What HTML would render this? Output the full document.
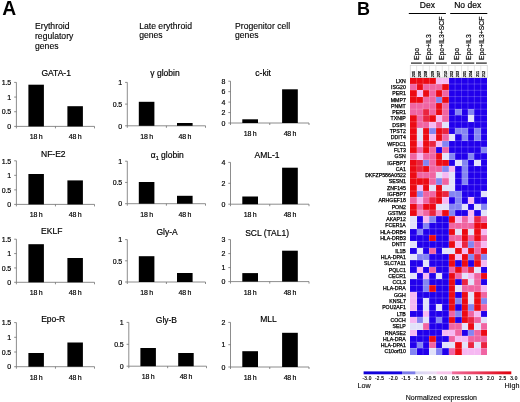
<!DOCTYPE html>
<html><head><meta charset="utf-8"><style>
html,body{margin:0;padding:0;background:#fff;}
body{width:520px;height:402px;overflow:hidden;}
.t{stroke:#000;stroke-width:0.18;}
svg{display:block;font-family:"Liberation Sans", sans-serif;will-change:transform;}
</style></head><body>
<svg width="520" height="402" viewBox="0 0 520 402" fill="#000">
<rect width="520" height="402" fill="#fff"/>
<text x="2.2" y="15.1" font-size="19.3" font-weight="bold">A</text>
<text x="357" y="15" font-size="18" font-weight="bold">B</text>
<text x="35.0" y="28.80" font-size="8.65" class="t" style="stroke-width:0.12">Erythroid</text>
<text x="35.0" y="38.65" font-size="8.65" class="t" style="stroke-width:0.12">regulatory</text>
<text x="35.0" y="48.50" font-size="8.65" class="t" style="stroke-width:0.12">genes</text>
<text x="139.2" y="28.50" font-size="8.65" class="t" style="stroke-width:0.12">Late erythroid</text>
<text x="139.2" y="38.35" font-size="8.65" class="t" style="stroke-width:0.12">genes</text>
<text x="235.0" y="28.50" font-size="8.65" class="t" style="stroke-width:0.12">Progenitor cell</text>
<text x="235.0" y="38.35" font-size="8.65" class="t" style="stroke-width:0.12">genes</text>
<line x1="16.4" y1="82.4" x2="16.4" y2="126.4" stroke="#707070" stroke-width="0.8"/>
<line x1="16.4" y1="126.4" x2="94.5" y2="126.4" stroke="#707070" stroke-width="0.8"/>
<line x1="14.2" y1="126.40" x2="16.4" y2="126.40" stroke="#707070" stroke-width="0.8"/>
<text x="11.00" y="129.15" font-size="7.0" text-anchor="end" letter-spacing="-0.2" class="t">0</text>
<line x1="14.2" y1="111.73" x2="16.4" y2="111.73" stroke="#707070" stroke-width="0.8"/>
<text x="11.00" y="114.48" font-size="7.0" text-anchor="end" letter-spacing="-0.2" class="t">0.5</text>
<line x1="14.2" y1="97.07" x2="16.4" y2="97.07" stroke="#707070" stroke-width="0.8"/>
<text x="11.00" y="99.82" font-size="7.0" text-anchor="end" letter-spacing="-0.2" class="t">1</text>
<line x1="14.2" y1="82.40" x2="16.4" y2="82.40" stroke="#707070" stroke-width="0.8"/>
<text x="11.00" y="85.15" font-size="7.0" text-anchor="end" letter-spacing="-0.2" class="t">1.5</text>
<line x1="16.40" y1="126.4" x2="16.40" y2="128.4" stroke="#707070" stroke-width="0.8"/>
<line x1="55.45" y1="126.4" x2="55.45" y2="128.4" stroke="#707070" stroke-width="0.8"/>
<line x1="94.50" y1="126.4" x2="94.50" y2="128.4" stroke="#707070" stroke-width="0.8"/>
<rect x="28.4" y="84.7" width="15.5" height="41.70" fill="#000"/>
<rect x="67.4" y="106.2" width="15.5" height="20.20" fill="#000"/>
<text x="36.15" y="139.40" font-size="7.0" text-anchor="middle" letter-spacing="-0.25" class="t">18 h</text>
<text x="75.15" y="139.40" font-size="7.0" text-anchor="middle" letter-spacing="-0.25" class="t">48 h</text>
<text x="56.2" y="76.4" font-size="8.5" text-anchor="middle" class="t">GATA-1</text>
<line x1="16.4" y1="160.8" x2="16.4" y2="204.4" stroke="#707070" stroke-width="0.8"/>
<line x1="16.4" y1="204.4" x2="94.5" y2="204.4" stroke="#707070" stroke-width="0.8"/>
<line x1="14.2" y1="204.40" x2="16.4" y2="204.40" stroke="#707070" stroke-width="0.8"/>
<text x="11.00" y="207.15" font-size="7.0" text-anchor="end" letter-spacing="-0.2" class="t">0</text>
<line x1="14.2" y1="189.87" x2="16.4" y2="189.87" stroke="#707070" stroke-width="0.8"/>
<text x="11.00" y="192.62" font-size="7.0" text-anchor="end" letter-spacing="-0.2" class="t">0.5</text>
<line x1="14.2" y1="175.33" x2="16.4" y2="175.33" stroke="#707070" stroke-width="0.8"/>
<text x="11.00" y="178.08" font-size="7.0" text-anchor="end" letter-spacing="-0.2" class="t">1</text>
<line x1="14.2" y1="160.80" x2="16.4" y2="160.80" stroke="#707070" stroke-width="0.8"/>
<text x="11.00" y="163.55" font-size="7.0" text-anchor="end" letter-spacing="-0.2" class="t">1.5</text>
<line x1="16.40" y1="204.4" x2="16.40" y2="206.4" stroke="#707070" stroke-width="0.8"/>
<line x1="55.45" y1="204.4" x2="55.45" y2="206.4" stroke="#707070" stroke-width="0.8"/>
<line x1="94.50" y1="204.4" x2="94.50" y2="206.4" stroke="#707070" stroke-width="0.8"/>
<rect x="28.4" y="174.0" width="15.5" height="30.40" fill="#000"/>
<rect x="67.4" y="180.4" width="15.5" height="24.00" fill="#000"/>
<text x="36.15" y="217.40" font-size="7.0" text-anchor="middle" letter-spacing="-0.25" class="t">18 h</text>
<text x="75.15" y="217.40" font-size="7.0" text-anchor="middle" letter-spacing="-0.25" class="t">48 h</text>
<text x="53.3" y="157.0" font-size="8.5" text-anchor="middle" class="t">NF-E2</text>
<line x1="16.4" y1="239.2" x2="16.4" y2="282.3" stroke="#707070" stroke-width="0.8"/>
<line x1="16.4" y1="282.3" x2="94.5" y2="282.3" stroke="#707070" stroke-width="0.8"/>
<line x1="14.2" y1="282.30" x2="16.4" y2="282.30" stroke="#707070" stroke-width="0.8"/>
<text x="11.00" y="285.05" font-size="7.0" text-anchor="end" letter-spacing="-0.2" class="t">0</text>
<line x1="14.2" y1="267.93" x2="16.4" y2="267.93" stroke="#707070" stroke-width="0.8"/>
<text x="11.00" y="270.68" font-size="7.0" text-anchor="end" letter-spacing="-0.2" class="t">0.5</text>
<line x1="14.2" y1="253.57" x2="16.4" y2="253.57" stroke="#707070" stroke-width="0.8"/>
<text x="11.00" y="256.32" font-size="7.0" text-anchor="end" letter-spacing="-0.2" class="t">1</text>
<line x1="14.2" y1="239.20" x2="16.4" y2="239.20" stroke="#707070" stroke-width="0.8"/>
<text x="11.00" y="241.95" font-size="7.0" text-anchor="end" letter-spacing="-0.2" class="t">1.5</text>
<line x1="16.40" y1="282.3" x2="16.40" y2="284.3" stroke="#707070" stroke-width="0.8"/>
<line x1="55.45" y1="282.3" x2="55.45" y2="284.3" stroke="#707070" stroke-width="0.8"/>
<line x1="94.50" y1="282.3" x2="94.50" y2="284.3" stroke="#707070" stroke-width="0.8"/>
<rect x="28.4" y="244.2" width="15.5" height="38.10" fill="#000"/>
<rect x="67.4" y="258.0" width="15.5" height="24.30" fill="#000"/>
<text x="36.15" y="295.30" font-size="7.0" text-anchor="middle" letter-spacing="-0.25" class="t">18 h</text>
<text x="75.15" y="295.30" font-size="7.0" text-anchor="middle" letter-spacing="-0.25" class="t">48 h</text>
<text x="51.7" y="234.3" font-size="8.5" text-anchor="middle" class="t">EKLF</text>
<line x1="16.4" y1="322.6" x2="16.4" y2="366.7" stroke="#707070" stroke-width="0.8"/>
<line x1="16.4" y1="366.7" x2="94.5" y2="366.7" stroke="#707070" stroke-width="0.8"/>
<line x1="14.2" y1="366.70" x2="16.4" y2="366.70" stroke="#707070" stroke-width="0.8"/>
<text x="11.00" y="369.45" font-size="7.0" text-anchor="end" letter-spacing="-0.2" class="t">0</text>
<line x1="14.2" y1="352.00" x2="16.4" y2="352.00" stroke="#707070" stroke-width="0.8"/>
<text x="11.00" y="354.75" font-size="7.0" text-anchor="end" letter-spacing="-0.2" class="t">0.5</text>
<line x1="14.2" y1="337.30" x2="16.4" y2="337.30" stroke="#707070" stroke-width="0.8"/>
<text x="11.00" y="340.05" font-size="7.0" text-anchor="end" letter-spacing="-0.2" class="t">1</text>
<line x1="14.2" y1="322.60" x2="16.4" y2="322.60" stroke="#707070" stroke-width="0.8"/>
<text x="11.00" y="325.35" font-size="7.0" text-anchor="end" letter-spacing="-0.2" class="t">1.5</text>
<line x1="16.40" y1="366.7" x2="16.40" y2="368.7" stroke="#707070" stroke-width="0.8"/>
<line x1="55.45" y1="366.7" x2="55.45" y2="368.7" stroke="#707070" stroke-width="0.8"/>
<line x1="94.50" y1="366.7" x2="94.50" y2="368.7" stroke="#707070" stroke-width="0.8"/>
<rect x="28.4" y="353.0" width="15.5" height="13.70" fill="#000"/>
<rect x="67.4" y="342.5" width="15.5" height="24.20" fill="#000"/>
<text x="36.15" y="379.70" font-size="7.0" text-anchor="middle" letter-spacing="-0.25" class="t">18 h</text>
<text x="75.15" y="379.70" font-size="7.0" text-anchor="middle" letter-spacing="-0.25" class="t">48 h</text>
<text x="53.2" y="321.8" font-size="8.5" text-anchor="middle" class="t">Epo-R</text>
<line x1="127.3" y1="82.4" x2="127.3" y2="125.8" stroke="#707070" stroke-width="0.8"/>
<line x1="127.3" y1="125.8" x2="205.5" y2="125.8" stroke="#707070" stroke-width="0.8"/>
<line x1="125.1" y1="125.80" x2="127.3" y2="125.80" stroke="#707070" stroke-width="0.8"/>
<text x="121.90" y="128.55" font-size="7.0" text-anchor="end" letter-spacing="-0.2" class="t">0</text>
<line x1="125.1" y1="104.10" x2="127.3" y2="104.10" stroke="#707070" stroke-width="0.8"/>
<text x="121.90" y="106.85" font-size="7.0" text-anchor="end" letter-spacing="-0.2" class="t">0.5</text>
<line x1="125.1" y1="82.40" x2="127.3" y2="82.40" stroke="#707070" stroke-width="0.8"/>
<text x="121.90" y="85.15" font-size="7.0" text-anchor="end" letter-spacing="-0.2" class="t">1</text>
<line x1="127.30" y1="125.8" x2="127.30" y2="127.8" stroke="#707070" stroke-width="0.8"/>
<line x1="166.40" y1="125.8" x2="166.40" y2="127.8" stroke="#707070" stroke-width="0.8"/>
<line x1="205.50" y1="125.8" x2="205.50" y2="127.8" stroke="#707070" stroke-width="0.8"/>
<rect x="138.8" y="101.8" width="15.6" height="24.00" fill="#000"/>
<rect x="177.0" y="123.0" width="15.6" height="2.80" fill="#000"/>
<text x="146.60" y="138.80" font-size="7.0" text-anchor="middle" letter-spacing="-0.25" class="t">18 h</text>
<text x="184.80" y="138.80" font-size="7.0" text-anchor="middle" letter-spacing="-0.25" class="t">48 h</text>
<text x="165.0" y="75.8" font-size="8.5" text-anchor="middle" class="t">&#947; globin</text>
<line x1="127.3" y1="161.2" x2="127.3" y2="203.7" stroke="#707070" stroke-width="0.8"/>
<line x1="127.3" y1="203.7" x2="205.5" y2="203.7" stroke="#707070" stroke-width="0.8"/>
<line x1="125.1" y1="203.70" x2="127.3" y2="203.70" stroke="#707070" stroke-width="0.8"/>
<text x="121.90" y="206.45" font-size="7.0" text-anchor="end" letter-spacing="-0.2" class="t">0</text>
<line x1="125.1" y1="182.45" x2="127.3" y2="182.45" stroke="#707070" stroke-width="0.8"/>
<text x="121.90" y="185.20" font-size="7.0" text-anchor="end" letter-spacing="-0.2" class="t">0.5</text>
<line x1="125.1" y1="161.20" x2="127.3" y2="161.20" stroke="#707070" stroke-width="0.8"/>
<text x="121.90" y="163.95" font-size="7.0" text-anchor="end" letter-spacing="-0.2" class="t">1</text>
<line x1="127.30" y1="203.7" x2="127.30" y2="205.7" stroke="#707070" stroke-width="0.8"/>
<line x1="166.40" y1="203.7" x2="166.40" y2="205.7" stroke="#707070" stroke-width="0.8"/>
<line x1="205.50" y1="203.7" x2="205.50" y2="205.7" stroke="#707070" stroke-width="0.8"/>
<rect x="138.8" y="182.0" width="15.6" height="21.70" fill="#000"/>
<rect x="177.0" y="195.8" width="15.6" height="7.90" fill="#000"/>
<text x="146.60" y="216.70" font-size="7.0" text-anchor="middle" letter-spacing="-0.25" class="t">18 h</text>
<text x="184.80" y="216.70" font-size="7.0" text-anchor="middle" letter-spacing="-0.25" class="t">48 h</text>
<text x="167.3" y="157.7" font-size="8.5" text-anchor="middle" class="t">&#945;<tspan font-size="5.5" dy="1.8">1</tspan><tspan dy="-1.8"> globin</tspan></text>
<line x1="127.3" y1="239.6" x2="127.3" y2="282.0" stroke="#707070" stroke-width="0.8"/>
<line x1="127.3" y1="282.0" x2="205.5" y2="282.0" stroke="#707070" stroke-width="0.8"/>
<line x1="125.1" y1="282.00" x2="127.3" y2="282.00" stroke="#707070" stroke-width="0.8"/>
<text x="121.90" y="284.75" font-size="7.0" text-anchor="end" letter-spacing="-0.2" class="t">0</text>
<line x1="125.1" y1="260.80" x2="127.3" y2="260.80" stroke="#707070" stroke-width="0.8"/>
<text x="121.90" y="263.55" font-size="7.0" text-anchor="end" letter-spacing="-0.2" class="t">0.5</text>
<line x1="125.1" y1="239.60" x2="127.3" y2="239.60" stroke="#707070" stroke-width="0.8"/>
<text x="121.90" y="242.35" font-size="7.0" text-anchor="end" letter-spacing="-0.2" class="t">1</text>
<line x1="127.30" y1="282.0" x2="127.30" y2="284.0" stroke="#707070" stroke-width="0.8"/>
<line x1="166.40" y1="282.0" x2="166.40" y2="284.0" stroke="#707070" stroke-width="0.8"/>
<line x1="205.50" y1="282.0" x2="205.50" y2="284.0" stroke="#707070" stroke-width="0.8"/>
<rect x="138.8" y="256.2" width="15.6" height="25.80" fill="#000"/>
<rect x="177.0" y="273.0" width="15.6" height="9.00" fill="#000"/>
<text x="146.60" y="295.00" font-size="7.0" text-anchor="middle" letter-spacing="-0.25" class="t">18 h</text>
<text x="184.80" y="295.00" font-size="7.0" text-anchor="middle" letter-spacing="-0.25" class="t">48 h</text>
<text x="167.0" y="234.8" font-size="8.5" text-anchor="middle" class="t">Gly-A</text>
<line x1="128.8" y1="322.4" x2="128.8" y2="366.2" stroke="#707070" stroke-width="0.8"/>
<line x1="128.8" y1="366.2" x2="206.5" y2="366.2" stroke="#707070" stroke-width="0.8"/>
<line x1="126.60000000000001" y1="366.20" x2="128.8" y2="366.20" stroke="#707070" stroke-width="0.8"/>
<text x="123.40" y="368.95" font-size="7.0" text-anchor="end" letter-spacing="-0.2" class="t">0</text>
<line x1="126.60000000000001" y1="344.30" x2="128.8" y2="344.30" stroke="#707070" stroke-width="0.8"/>
<text x="123.40" y="347.05" font-size="7.0" text-anchor="end" letter-spacing="-0.2" class="t">0.5</text>
<line x1="126.60000000000001" y1="322.40" x2="128.8" y2="322.40" stroke="#707070" stroke-width="0.8"/>
<text x="123.40" y="325.15" font-size="7.0" text-anchor="end" letter-spacing="-0.2" class="t">1</text>
<line x1="128.80" y1="366.2" x2="128.80" y2="368.2" stroke="#707070" stroke-width="0.8"/>
<line x1="167.65" y1="366.2" x2="167.65" y2="368.2" stroke="#707070" stroke-width="0.8"/>
<line x1="206.50" y1="366.2" x2="206.50" y2="368.2" stroke="#707070" stroke-width="0.8"/>
<rect x="140.4" y="348.0" width="15.5" height="18.20" fill="#000"/>
<rect x="178.2" y="353.0" width="15.5" height="13.20" fill="#000"/>
<text x="148.15" y="379.20" font-size="7.0" text-anchor="middle" letter-spacing="-0.25" class="t">18 h</text>
<text x="185.95" y="379.20" font-size="7.0" text-anchor="middle" letter-spacing="-0.25" class="t">48 h</text>
<text x="166.4" y="322.6" font-size="8.5" text-anchor="middle" class="t">Gly-B</text>
<line x1="230.5" y1="81.2" x2="230.5" y2="123.0" stroke="#707070" stroke-width="0.8"/>
<line x1="230.5" y1="123.0" x2="309.0" y2="123.0" stroke="#707070" stroke-width="0.8"/>
<line x1="228.3" y1="123.00" x2="230.5" y2="123.00" stroke="#707070" stroke-width="0.8"/>
<text x="225.10" y="125.75" font-size="7.0" text-anchor="end" letter-spacing="-0.2" class="t">0</text>
<line x1="228.3" y1="112.55" x2="230.5" y2="112.55" stroke="#707070" stroke-width="0.8"/>
<text x="225.10" y="115.30" font-size="7.0" text-anchor="end" letter-spacing="-0.2" class="t">2</text>
<line x1="228.3" y1="102.10" x2="230.5" y2="102.10" stroke="#707070" stroke-width="0.8"/>
<text x="225.10" y="104.85" font-size="7.0" text-anchor="end" letter-spacing="-0.2" class="t">4</text>
<line x1="228.3" y1="91.65" x2="230.5" y2="91.65" stroke="#707070" stroke-width="0.8"/>
<text x="225.10" y="94.40" font-size="7.0" text-anchor="end" letter-spacing="-0.2" class="t">6</text>
<line x1="228.3" y1="81.20" x2="230.5" y2="81.20" stroke="#707070" stroke-width="0.8"/>
<text x="225.10" y="83.95" font-size="7.0" text-anchor="end" letter-spacing="-0.2" class="t">8</text>
<line x1="230.50" y1="123.0" x2="230.50" y2="125.0" stroke="#707070" stroke-width="0.8"/>
<line x1="269.75" y1="123.0" x2="269.75" y2="125.0" stroke="#707070" stroke-width="0.8"/>
<line x1="309.00" y1="123.0" x2="309.00" y2="125.0" stroke="#707070" stroke-width="0.8"/>
<rect x="242.3" y="119.3" width="15.7" height="3.70" fill="#000"/>
<rect x="282.1" y="89.3" width="15.7" height="33.70" fill="#000"/>
<text x="250.15" y="136.00" font-size="7.0" text-anchor="middle" letter-spacing="-0.25" class="t">18 h</text>
<text x="289.95" y="136.00" font-size="7.0" text-anchor="middle" letter-spacing="-0.25" class="t">48 h</text>
<text x="263.1" y="76.0" font-size="8.5" text-anchor="middle" class="t">c-kit</text>
<line x1="230.5" y1="162.4" x2="230.5" y2="204.2" stroke="#707070" stroke-width="0.8"/>
<line x1="230.5" y1="204.2" x2="309.0" y2="204.2" stroke="#707070" stroke-width="0.8"/>
<line x1="228.3" y1="204.20" x2="230.5" y2="204.20" stroke="#707070" stroke-width="0.8"/>
<text x="225.10" y="206.95" font-size="7.0" text-anchor="end" letter-spacing="-0.2" class="t">0</text>
<line x1="228.3" y1="183.30" x2="230.5" y2="183.30" stroke="#707070" stroke-width="0.8"/>
<text x="225.10" y="186.05" font-size="7.0" text-anchor="end" letter-spacing="-0.2" class="t">2</text>
<line x1="228.3" y1="162.40" x2="230.5" y2="162.40" stroke="#707070" stroke-width="0.8"/>
<text x="225.10" y="165.15" font-size="7.0" text-anchor="end" letter-spacing="-0.2" class="t">4</text>
<line x1="230.50" y1="204.2" x2="230.50" y2="206.2" stroke="#707070" stroke-width="0.8"/>
<line x1="269.75" y1="204.2" x2="269.75" y2="206.2" stroke="#707070" stroke-width="0.8"/>
<line x1="309.00" y1="204.2" x2="309.00" y2="206.2" stroke="#707070" stroke-width="0.8"/>
<rect x="242.3" y="196.5" width="15.7" height="7.70" fill="#000"/>
<rect x="282.1" y="167.7" width="15.7" height="36.50" fill="#000"/>
<text x="250.15" y="217.20" font-size="7.0" text-anchor="middle" letter-spacing="-0.25" class="t">18 h</text>
<text x="289.95" y="217.20" font-size="7.0" text-anchor="middle" letter-spacing="-0.25" class="t">48 h</text>
<text x="267.1" y="158.2" font-size="8.5" text-anchor="middle" class="t">AML-1</text>
<line x1="230.5" y1="239.6" x2="230.5" y2="281.6" stroke="#707070" stroke-width="0.8"/>
<line x1="230.5" y1="281.6" x2="309.0" y2="281.6" stroke="#707070" stroke-width="0.8"/>
<line x1="228.3" y1="281.60" x2="230.5" y2="281.60" stroke="#707070" stroke-width="0.8"/>
<text x="225.10" y="284.35" font-size="7.0" text-anchor="end" letter-spacing="-0.2" class="t">0</text>
<line x1="228.3" y1="267.60" x2="230.5" y2="267.60" stroke="#707070" stroke-width="0.8"/>
<text x="225.10" y="270.35" font-size="7.0" text-anchor="end" letter-spacing="-0.2" class="t">1</text>
<line x1="228.3" y1="253.60" x2="230.5" y2="253.60" stroke="#707070" stroke-width="0.8"/>
<text x="225.10" y="256.35" font-size="7.0" text-anchor="end" letter-spacing="-0.2" class="t">2</text>
<line x1="228.3" y1="239.60" x2="230.5" y2="239.60" stroke="#707070" stroke-width="0.8"/>
<text x="225.10" y="242.35" font-size="7.0" text-anchor="end" letter-spacing="-0.2" class="t">3</text>
<line x1="230.50" y1="281.6" x2="230.50" y2="283.6" stroke="#707070" stroke-width="0.8"/>
<line x1="269.75" y1="281.6" x2="269.75" y2="283.6" stroke="#707070" stroke-width="0.8"/>
<line x1="309.00" y1="281.6" x2="309.00" y2="283.6" stroke="#707070" stroke-width="0.8"/>
<rect x="242.3" y="273.1" width="15.7" height="8.50" fill="#000"/>
<rect x="282.1" y="250.7" width="15.7" height="30.90" fill="#000"/>
<text x="250.15" y="294.60" font-size="7.0" text-anchor="middle" letter-spacing="-0.25" class="t">18 h</text>
<text x="289.95" y="294.60" font-size="7.0" text-anchor="middle" letter-spacing="-0.25" class="t">48 h</text>
<text x="267.1" y="235.6" font-size="8.5" text-anchor="middle" class="t">SCL (TAL1)</text>
<line x1="230.5" y1="322.4" x2="230.5" y2="367.0" stroke="#707070" stroke-width="0.8"/>
<line x1="230.5" y1="367.0" x2="309.0" y2="367.0" stroke="#707070" stroke-width="0.8"/>
<line x1="228.3" y1="367.00" x2="230.5" y2="367.00" stroke="#707070" stroke-width="0.8"/>
<text x="225.10" y="369.75" font-size="7.0" text-anchor="end" letter-spacing="-0.2" class="t">0</text>
<line x1="228.3" y1="344.70" x2="230.5" y2="344.70" stroke="#707070" stroke-width="0.8"/>
<text x="225.10" y="347.45" font-size="7.0" text-anchor="end" letter-spacing="-0.2" class="t">1</text>
<line x1="228.3" y1="322.40" x2="230.5" y2="322.40" stroke="#707070" stroke-width="0.8"/>
<text x="225.10" y="325.15" font-size="7.0" text-anchor="end" letter-spacing="-0.2" class="t">2</text>
<line x1="230.50" y1="367.0" x2="230.50" y2="369.0" stroke="#707070" stroke-width="0.8"/>
<line x1="269.75" y1="367.0" x2="269.75" y2="369.0" stroke="#707070" stroke-width="0.8"/>
<line x1="309.00" y1="367.0" x2="309.00" y2="369.0" stroke="#707070" stroke-width="0.8"/>
<rect x="242.3" y="351.2" width="15.7" height="15.80" fill="#000"/>
<rect x="282.1" y="332.8" width="15.7" height="34.20" fill="#000"/>
<text x="250.15" y="380.00" font-size="7.0" text-anchor="middle" letter-spacing="-0.25" class="t">18 h</text>
<text x="289.95" y="380.00" font-size="7.0" text-anchor="middle" letter-spacing="-0.25" class="t">48 h</text>
<text x="268.4" y="321.8" font-size="8.5" text-anchor="middle" class="t">MLL</text>
<g shape-rendering="crispEdges">
<rect x="410.20" y="77.70" width="6.47" height="6.35" fill="#ec0a14"/>
<rect x="416.62" y="77.70" width="6.47" height="6.35" fill="#ec0a14"/>
<rect x="423.03" y="77.70" width="6.47" height="6.35" fill="#ec0a14"/>
<rect x="429.45" y="77.70" width="6.47" height="6.35" fill="#ec0a14"/>
<rect x="435.87" y="77.70" width="6.47" height="6.35" fill="#f6b8f2"/>
<rect x="442.28" y="77.70" width="6.47" height="6.35" fill="#f6b8f2"/>
<rect x="448.70" y="77.70" width="6.47" height="6.35" fill="#2200ec"/>
<rect x="455.12" y="77.70" width="6.47" height="6.35" fill="#2200ec"/>
<rect x="461.53" y="77.70" width="6.47" height="6.35" fill="#2200ec"/>
<rect x="467.95" y="77.70" width="6.47" height="6.35" fill="#2200ec"/>
<rect x="474.37" y="77.70" width="6.47" height="6.35" fill="#2200ec"/>
<rect x="480.78" y="77.70" width="6.47" height="6.35" fill="#2200ec"/>
<rect x="410.20" y="84.00" width="6.47" height="6.35" fill="#f064a2"/>
<rect x="416.62" y="84.00" width="6.47" height="6.35" fill="#ec0a14"/>
<rect x="423.03" y="84.00" width="6.47" height="6.35" fill="#f064a2"/>
<rect x="429.45" y="84.00" width="6.47" height="6.35" fill="#f064a2"/>
<rect x="435.87" y="84.00" width="6.47" height="6.35" fill="#f064a2"/>
<rect x="442.28" y="84.00" width="6.47" height="6.35" fill="#ec0a14"/>
<rect x="448.70" y="84.00" width="6.47" height="6.35" fill="#2200ec"/>
<rect x="455.12" y="84.00" width="6.47" height="6.35" fill="#2200ec"/>
<rect x="461.53" y="84.00" width="6.47" height="6.35" fill="#2200ec"/>
<rect x="467.95" y="84.00" width="6.47" height="6.35" fill="#2200ec"/>
<rect x="474.37" y="84.00" width="6.47" height="6.35" fill="#2200ec"/>
<rect x="480.78" y="84.00" width="6.47" height="6.35" fill="#2200ec"/>
<rect x="410.20" y="90.29" width="6.47" height="6.35" fill="#ec0a14"/>
<rect x="416.62" y="90.29" width="6.47" height="6.35" fill="#f6b8f2"/>
<rect x="423.03" y="90.29" width="6.47" height="6.35" fill="#ec0a14"/>
<rect x="429.45" y="90.29" width="6.47" height="6.35" fill="#f064a2"/>
<rect x="435.87" y="90.29" width="6.47" height="6.35" fill="#ec0a14"/>
<rect x="442.28" y="90.29" width="6.47" height="6.35" fill="#f064a2"/>
<rect x="448.70" y="90.29" width="6.47" height="6.35" fill="#2200ec"/>
<rect x="455.12" y="90.29" width="6.47" height="6.35" fill="#2200ec"/>
<rect x="461.53" y="90.29" width="6.47" height="6.35" fill="#2200ec"/>
<rect x="467.95" y="90.29" width="6.47" height="6.35" fill="#2200ec"/>
<rect x="474.37" y="90.29" width="6.47" height="6.35" fill="#2200ec"/>
<rect x="480.78" y="90.29" width="6.47" height="6.35" fill="#2200ec"/>
<rect x="410.20" y="96.59" width="6.47" height="6.35" fill="#ec0a14"/>
<rect x="416.62" y="96.59" width="6.47" height="6.35" fill="#ec0a14"/>
<rect x="423.03" y="96.59" width="6.47" height="6.35" fill="#f064a2"/>
<rect x="429.45" y="96.59" width="6.47" height="6.35" fill="#f064a2"/>
<rect x="435.87" y="96.59" width="6.47" height="6.35" fill="#8484f2"/>
<rect x="442.28" y="96.59" width="6.47" height="6.35" fill="#ec0a14"/>
<rect x="448.70" y="96.59" width="6.47" height="6.35" fill="#2200ec"/>
<rect x="455.12" y="96.59" width="6.47" height="6.35" fill="#2200ec"/>
<rect x="461.53" y="96.59" width="6.47" height="6.35" fill="#2200ec"/>
<rect x="467.95" y="96.59" width="6.47" height="6.35" fill="#2200ec"/>
<rect x="474.37" y="96.59" width="6.47" height="6.35" fill="#2200ec"/>
<rect x="480.78" y="96.59" width="6.47" height="6.35" fill="#2200ec"/>
<rect x="410.20" y="102.88" width="6.47" height="6.35" fill="#f064a2"/>
<rect x="416.62" y="102.88" width="6.47" height="6.35" fill="#f064a2"/>
<rect x="423.03" y="102.88" width="6.47" height="6.35" fill="#f064a2"/>
<rect x="429.45" y="102.88" width="6.47" height="6.35" fill="#f064a2"/>
<rect x="435.87" y="102.88" width="6.47" height="6.35" fill="#ec0a14"/>
<rect x="442.28" y="102.88" width="6.47" height="6.35" fill="#f064a2"/>
<rect x="448.70" y="102.88" width="6.47" height="6.35" fill="#2200ec"/>
<rect x="455.12" y="102.88" width="6.47" height="6.35" fill="#2200ec"/>
<rect x="461.53" y="102.88" width="6.47" height="6.35" fill="#2200ec"/>
<rect x="467.95" y="102.88" width="6.47" height="6.35" fill="#2200ec"/>
<rect x="474.37" y="102.88" width="6.47" height="6.35" fill="#2200ec"/>
<rect x="480.78" y="102.88" width="6.47" height="6.35" fill="#2200ec"/>
<rect x="410.20" y="109.18" width="6.47" height="6.35" fill="#f064a2"/>
<rect x="416.62" y="109.18" width="6.47" height="6.35" fill="#f064a2"/>
<rect x="423.03" y="109.18" width="6.47" height="6.35" fill="#ea2440"/>
<rect x="429.45" y="109.18" width="6.47" height="6.35" fill="#f064a2"/>
<rect x="435.87" y="109.18" width="6.47" height="6.35" fill="#ec0a14"/>
<rect x="442.28" y="109.18" width="6.47" height="6.35" fill="#f064a2"/>
<rect x="448.70" y="109.18" width="6.47" height="6.35" fill="#2200ec"/>
<rect x="455.12" y="109.18" width="6.47" height="6.35" fill="#8484f2"/>
<rect x="461.53" y="109.18" width="6.47" height="6.35" fill="#2200ec"/>
<rect x="467.95" y="109.18" width="6.47" height="6.35" fill="#8484f2"/>
<rect x="474.37" y="109.18" width="6.47" height="6.35" fill="#2200ec"/>
<rect x="480.78" y="109.18" width="6.47" height="6.35" fill="#2200ec"/>
<rect x="410.20" y="115.47" width="6.47" height="6.35" fill="#ec0a14"/>
<rect x="416.62" y="115.47" width="6.47" height="6.35" fill="#f064a2"/>
<rect x="423.03" y="115.47" width="6.47" height="6.35" fill="#ea2440"/>
<rect x="429.45" y="115.47" width="6.47" height="6.35" fill="#ec0a14"/>
<rect x="435.87" y="115.47" width="6.47" height="6.35" fill="#f6b8f2"/>
<rect x="442.28" y="115.47" width="6.47" height="6.35" fill="#f064a2"/>
<rect x="448.70" y="115.47" width="6.47" height="6.35" fill="#2200ec"/>
<rect x="455.12" y="115.47" width="6.47" height="6.35" fill="#2200ec"/>
<rect x="461.53" y="115.47" width="6.47" height="6.35" fill="#2200ec"/>
<rect x="467.95" y="115.47" width="6.47" height="6.35" fill="#e2e2fa"/>
<rect x="474.37" y="115.47" width="6.47" height="6.35" fill="#2200ec"/>
<rect x="480.78" y="115.47" width="6.47" height="6.35" fill="#2200ec"/>
<rect x="410.20" y="121.77" width="6.47" height="6.35" fill="#ec0a14"/>
<rect x="416.62" y="121.77" width="6.47" height="6.35" fill="#f064a2"/>
<rect x="423.03" y="121.77" width="6.47" height="6.35" fill="#f064a2"/>
<rect x="429.45" y="121.77" width="6.47" height="6.35" fill="#f6b8f2"/>
<rect x="435.87" y="121.77" width="6.47" height="6.35" fill="#f064a2"/>
<rect x="442.28" y="121.77" width="6.47" height="6.35" fill="#e2e2fa"/>
<rect x="448.70" y="121.77" width="6.47" height="6.35" fill="#2200ec"/>
<rect x="455.12" y="121.77" width="6.47" height="6.35" fill="#2200ec"/>
<rect x="461.53" y="121.77" width="6.47" height="6.35" fill="#2200ec"/>
<rect x="467.95" y="121.77" width="6.47" height="6.35" fill="#2200ec"/>
<rect x="474.37" y="121.77" width="6.47" height="6.35" fill="#2200ec"/>
<rect x="480.78" y="121.77" width="6.47" height="6.35" fill="#2200ec"/>
<rect x="410.20" y="128.06" width="6.47" height="6.35" fill="#ec0a14"/>
<rect x="416.62" y="128.06" width="6.47" height="6.35" fill="#e2e2fa"/>
<rect x="423.03" y="128.06" width="6.47" height="6.35" fill="#ec0a14"/>
<rect x="429.45" y="128.06" width="6.47" height="6.35" fill="#8484f2"/>
<rect x="435.87" y="128.06" width="6.47" height="6.35" fill="#ec0a14"/>
<rect x="442.28" y="128.06" width="6.47" height="6.35" fill="#ea2440"/>
<rect x="448.70" y="128.06" width="6.47" height="6.35" fill="#2200ec"/>
<rect x="455.12" y="128.06" width="6.47" height="6.35" fill="#8484f2"/>
<rect x="461.53" y="128.06" width="6.47" height="6.35" fill="#8484f2"/>
<rect x="467.95" y="128.06" width="6.47" height="6.35" fill="#2200ec"/>
<rect x="474.37" y="128.06" width="6.47" height="6.35" fill="#8484f2"/>
<rect x="480.78" y="128.06" width="6.47" height="6.35" fill="#2200ec"/>
<rect x="410.20" y="134.36" width="6.47" height="6.35" fill="#ec0a14"/>
<rect x="416.62" y="134.36" width="6.47" height="6.35" fill="#e2e2fa"/>
<rect x="423.03" y="134.36" width="6.47" height="6.35" fill="#ec0a14"/>
<rect x="429.45" y="134.36" width="6.47" height="6.35" fill="#f6b8f2"/>
<rect x="435.87" y="134.36" width="6.47" height="6.35" fill="#ec0a14"/>
<rect x="442.28" y="134.36" width="6.47" height="6.35" fill="#f064a2"/>
<rect x="448.70" y="134.36" width="6.47" height="6.35" fill="#e2e2fa"/>
<rect x="455.12" y="134.36" width="6.47" height="6.35" fill="#2200ec"/>
<rect x="461.53" y="134.36" width="6.47" height="6.35" fill="#8484f2"/>
<rect x="467.95" y="134.36" width="6.47" height="6.35" fill="#2200ec"/>
<rect x="474.37" y="134.36" width="6.47" height="6.35" fill="#8484f2"/>
<rect x="480.78" y="134.36" width="6.47" height="6.35" fill="#2200ec"/>
<rect x="410.20" y="140.65" width="6.47" height="6.35" fill="#ec0a14"/>
<rect x="416.62" y="140.65" width="6.47" height="6.35" fill="#f6b8f2"/>
<rect x="423.03" y="140.65" width="6.47" height="6.35" fill="#ec0a14"/>
<rect x="429.45" y="140.65" width="6.47" height="6.35" fill="#ea2440"/>
<rect x="435.87" y="140.65" width="6.47" height="6.35" fill="#f6b8f2"/>
<rect x="442.28" y="140.65" width="6.47" height="6.35" fill="#8484f2"/>
<rect x="448.70" y="140.65" width="6.47" height="6.35" fill="#2200ec"/>
<rect x="455.12" y="140.65" width="6.47" height="6.35" fill="#2200ec"/>
<rect x="461.53" y="140.65" width="6.47" height="6.35" fill="#2200ec"/>
<rect x="467.95" y="140.65" width="6.47" height="6.35" fill="#2200ec"/>
<rect x="474.37" y="140.65" width="6.47" height="6.35" fill="#2200ec"/>
<rect x="480.78" y="140.65" width="6.47" height="6.35" fill="#2200ec"/>
<rect x="410.20" y="146.95" width="6.47" height="6.35" fill="#ec0a14"/>
<rect x="416.62" y="146.95" width="6.47" height="6.35" fill="#f064a2"/>
<rect x="423.03" y="146.95" width="6.47" height="6.35" fill="#ec0a14"/>
<rect x="429.45" y="146.95" width="6.47" height="6.35" fill="#f064a2"/>
<rect x="435.87" y="146.95" width="6.47" height="6.35" fill="#2200ec"/>
<rect x="442.28" y="146.95" width="6.47" height="6.35" fill="#f064a2"/>
<rect x="448.70" y="146.95" width="6.47" height="6.35" fill="#2200ec"/>
<rect x="455.12" y="146.95" width="6.47" height="6.35" fill="#2200ec"/>
<rect x="461.53" y="146.95" width="6.47" height="6.35" fill="#2200ec"/>
<rect x="467.95" y="146.95" width="6.47" height="6.35" fill="#2200ec"/>
<rect x="474.37" y="146.95" width="6.47" height="6.35" fill="#2200ec"/>
<rect x="480.78" y="146.95" width="6.47" height="6.35" fill="#8484f2"/>
<rect x="410.20" y="153.25" width="6.47" height="6.35" fill="#f064a2"/>
<rect x="416.62" y="153.25" width="6.47" height="6.35" fill="#f6b8f2"/>
<rect x="423.03" y="153.25" width="6.47" height="6.35" fill="#f064a2"/>
<rect x="429.45" y="153.25" width="6.47" height="6.35" fill="#f064a2"/>
<rect x="435.87" y="153.25" width="6.47" height="6.35" fill="#ec0a14"/>
<rect x="442.28" y="153.25" width="6.47" height="6.35" fill="#e2e2fa"/>
<rect x="448.70" y="153.25" width="6.47" height="6.35" fill="#8484f2"/>
<rect x="455.12" y="153.25" width="6.47" height="6.35" fill="#2200ec"/>
<rect x="461.53" y="153.25" width="6.47" height="6.35" fill="#2200ec"/>
<rect x="467.95" y="153.25" width="6.47" height="6.35" fill="#8484f2"/>
<rect x="474.37" y="153.25" width="6.47" height="6.35" fill="#2200ec"/>
<rect x="480.78" y="153.25" width="6.47" height="6.35" fill="#2200ec"/>
<rect x="410.20" y="159.54" width="6.47" height="6.35" fill="#ec0a14"/>
<rect x="416.62" y="159.54" width="6.47" height="6.35" fill="#ea2440"/>
<rect x="423.03" y="159.54" width="6.47" height="6.35" fill="#8484f2"/>
<rect x="429.45" y="159.54" width="6.47" height="6.35" fill="#f064a2"/>
<rect x="435.87" y="159.54" width="6.47" height="6.35" fill="#ec0a14"/>
<rect x="442.28" y="159.54" width="6.47" height="6.35" fill="#ec0a14"/>
<rect x="448.70" y="159.54" width="6.47" height="6.35" fill="#2200ec"/>
<rect x="455.12" y="159.54" width="6.47" height="6.35" fill="#e2e2fa"/>
<rect x="461.53" y="159.54" width="6.47" height="6.35" fill="#8484f2"/>
<rect x="467.95" y="159.54" width="6.47" height="6.35" fill="#2200ec"/>
<rect x="474.37" y="159.54" width="6.47" height="6.35" fill="#e2e2fa"/>
<rect x="480.78" y="159.54" width="6.47" height="6.35" fill="#2200ec"/>
<rect x="410.20" y="165.84" width="6.47" height="6.35" fill="#ec0a14"/>
<rect x="416.62" y="165.84" width="6.47" height="6.35" fill="#ea2440"/>
<rect x="423.03" y="165.84" width="6.47" height="6.35" fill="#ec0a14"/>
<rect x="429.45" y="165.84" width="6.47" height="6.35" fill="#f064a2"/>
<rect x="435.87" y="165.84" width="6.47" height="6.35" fill="#f064a2"/>
<rect x="442.28" y="165.84" width="6.47" height="6.35" fill="#8484f2"/>
<rect x="448.70" y="165.84" width="6.47" height="6.35" fill="#f6b8f2"/>
<rect x="455.12" y="165.84" width="6.47" height="6.35" fill="#2200ec"/>
<rect x="461.53" y="165.84" width="6.47" height="6.35" fill="#8484f2"/>
<rect x="467.95" y="165.84" width="6.47" height="6.35" fill="#2200ec"/>
<rect x="474.37" y="165.84" width="6.47" height="6.35" fill="#2200ec"/>
<rect x="480.78" y="165.84" width="6.47" height="6.35" fill="#2200ec"/>
<rect x="410.20" y="172.13" width="6.47" height="6.35" fill="#ec0a14"/>
<rect x="416.62" y="172.13" width="6.47" height="6.35" fill="#f064a2"/>
<rect x="423.03" y="172.13" width="6.47" height="6.35" fill="#f064a2"/>
<rect x="429.45" y="172.13" width="6.47" height="6.35" fill="#f064a2"/>
<rect x="435.87" y="172.13" width="6.47" height="6.35" fill="#e2e2fa"/>
<rect x="442.28" y="172.13" width="6.47" height="6.35" fill="#f6b8f2"/>
<rect x="448.70" y="172.13" width="6.47" height="6.35" fill="#e2e2fa"/>
<rect x="455.12" y="172.13" width="6.47" height="6.35" fill="#2200ec"/>
<rect x="461.53" y="172.13" width="6.47" height="6.35" fill="#8484f2"/>
<rect x="467.95" y="172.13" width="6.47" height="6.35" fill="#2200ec"/>
<rect x="474.37" y="172.13" width="6.47" height="6.35" fill="#2200ec"/>
<rect x="480.78" y="172.13" width="6.47" height="6.35" fill="#2200ec"/>
<rect x="410.20" y="178.43" width="6.47" height="6.35" fill="#ec0a14"/>
<rect x="416.62" y="178.43" width="6.47" height="6.35" fill="#ec0a14"/>
<rect x="423.03" y="178.43" width="6.47" height="6.35" fill="#ec0a14"/>
<rect x="429.45" y="178.43" width="6.47" height="6.35" fill="#f064a2"/>
<rect x="435.87" y="178.43" width="6.47" height="6.35" fill="#8484f2"/>
<rect x="442.28" y="178.43" width="6.47" height="6.35" fill="#f064a2"/>
<rect x="448.70" y="178.43" width="6.47" height="6.35" fill="#e2e2fa"/>
<rect x="455.12" y="178.43" width="6.47" height="6.35" fill="#2200ec"/>
<rect x="461.53" y="178.43" width="6.47" height="6.35" fill="#8484f2"/>
<rect x="467.95" y="178.43" width="6.47" height="6.35" fill="#2200ec"/>
<rect x="474.37" y="178.43" width="6.47" height="6.35" fill="#2200ec"/>
<rect x="480.78" y="178.43" width="6.47" height="6.35" fill="#2200ec"/>
<rect x="410.20" y="184.72" width="6.47" height="6.35" fill="#ec0a14"/>
<rect x="416.62" y="184.72" width="6.47" height="6.35" fill="#f6b8f2"/>
<rect x="423.03" y="184.72" width="6.47" height="6.35" fill="#ec0a14"/>
<rect x="429.45" y="184.72" width="6.47" height="6.35" fill="#e2e2fa"/>
<rect x="435.87" y="184.72" width="6.47" height="6.35" fill="#ec0a14"/>
<rect x="442.28" y="184.72" width="6.47" height="6.35" fill="#e2e2fa"/>
<rect x="448.70" y="184.72" width="6.47" height="6.35" fill="#e2e2fa"/>
<rect x="455.12" y="184.72" width="6.47" height="6.35" fill="#2200ec"/>
<rect x="461.53" y="184.72" width="6.47" height="6.35" fill="#2200ec"/>
<rect x="467.95" y="184.72" width="6.47" height="6.35" fill="#2200ec"/>
<rect x="474.37" y="184.72" width="6.47" height="6.35" fill="#2200ec"/>
<rect x="480.78" y="184.72" width="6.47" height="6.35" fill="#2200ec"/>
<rect x="410.20" y="191.02" width="6.47" height="6.35" fill="#ec0a14"/>
<rect x="416.62" y="191.02" width="6.47" height="6.35" fill="#8484f2"/>
<rect x="423.03" y="191.02" width="6.47" height="6.35" fill="#f064a2"/>
<rect x="429.45" y="191.02" width="6.47" height="6.35" fill="#f064a2"/>
<rect x="435.87" y="191.02" width="6.47" height="6.35" fill="#ec0a14"/>
<rect x="442.28" y="191.02" width="6.47" height="6.35" fill="#ea2440"/>
<rect x="448.70" y="191.02" width="6.47" height="6.35" fill="#8484f2"/>
<rect x="455.12" y="191.02" width="6.47" height="6.35" fill="#8484f2"/>
<rect x="461.53" y="191.02" width="6.47" height="6.35" fill="#2200ec"/>
<rect x="467.95" y="191.02" width="6.47" height="6.35" fill="#2200ec"/>
<rect x="474.37" y="191.02" width="6.47" height="6.35" fill="#2200ec"/>
<rect x="480.78" y="191.02" width="6.47" height="6.35" fill="#e2e2fa"/>
<rect x="410.20" y="197.31" width="6.47" height="6.35" fill="#f064a2"/>
<rect x="416.62" y="197.31" width="6.47" height="6.35" fill="#f6b8f2"/>
<rect x="423.03" y="197.31" width="6.47" height="6.35" fill="#f064a2"/>
<rect x="429.45" y="197.31" width="6.47" height="6.35" fill="#ea2440"/>
<rect x="435.87" y="197.31" width="6.47" height="6.35" fill="#ec0a14"/>
<rect x="442.28" y="197.31" width="6.47" height="6.35" fill="#f6b8f2"/>
<rect x="448.70" y="197.31" width="6.47" height="6.35" fill="#2200ec"/>
<rect x="455.12" y="197.31" width="6.47" height="6.35" fill="#8484f2"/>
<rect x="461.53" y="197.31" width="6.47" height="6.35" fill="#2200ec"/>
<rect x="467.95" y="197.31" width="6.47" height="6.35" fill="#f6b8f2"/>
<rect x="474.37" y="197.31" width="6.47" height="6.35" fill="#2200ec"/>
<rect x="480.78" y="197.31" width="6.47" height="6.35" fill="#2200ec"/>
<rect x="410.20" y="203.61" width="6.47" height="6.35" fill="#ec0a14"/>
<rect x="416.62" y="203.61" width="6.47" height="6.35" fill="#f064a2"/>
<rect x="423.03" y="203.61" width="6.47" height="6.35" fill="#ec0a14"/>
<rect x="429.45" y="203.61" width="6.47" height="6.35" fill="#ec0a14"/>
<rect x="435.87" y="203.61" width="6.47" height="6.35" fill="#e2e2fa"/>
<rect x="442.28" y="203.61" width="6.47" height="6.35" fill="#e2e2fa"/>
<rect x="448.70" y="203.61" width="6.47" height="6.35" fill="#8484f2"/>
<rect x="455.12" y="203.61" width="6.47" height="6.35" fill="#8484f2"/>
<rect x="461.53" y="203.61" width="6.47" height="6.35" fill="#e2e2fa"/>
<rect x="467.95" y="203.61" width="6.47" height="6.35" fill="#2200ec"/>
<rect x="474.37" y="203.61" width="6.47" height="6.35" fill="#e2e2fa"/>
<rect x="480.78" y="203.61" width="6.47" height="6.35" fill="#8484f2"/>
<rect x="410.20" y="209.90" width="6.47" height="6.35" fill="#ec0a14"/>
<rect x="416.62" y="209.90" width="6.47" height="6.35" fill="#f68cc4"/>
<rect x="423.03" y="209.90" width="6.47" height="6.35" fill="#f064a2"/>
<rect x="429.45" y="209.90" width="6.47" height="6.35" fill="#ea2440"/>
<rect x="435.87" y="209.90" width="6.47" height="6.35" fill="#f68cc4"/>
<rect x="442.28" y="209.90" width="6.47" height="6.35" fill="#ec0a14"/>
<rect x="448.70" y="209.90" width="6.47" height="6.35" fill="#8484f2"/>
<rect x="455.12" y="209.90" width="6.47" height="6.35" fill="#2200ec"/>
<rect x="461.53" y="209.90" width="6.47" height="6.35" fill="#2200ec"/>
<rect x="467.95" y="209.90" width="6.47" height="6.35" fill="#f6b8f2"/>
<rect x="474.37" y="209.90" width="6.47" height="6.35" fill="#2200ec"/>
<rect x="480.78" y="209.90" width="6.47" height="6.35" fill="#e2e2fa"/>
<rect x="410.20" y="216.20" width="6.47" height="6.35" fill="#e2e2fa"/>
<rect x="416.62" y="216.20" width="6.47" height="6.35" fill="#2200ec"/>
<rect x="423.03" y="216.20" width="6.47" height="6.35" fill="#f6b8f2"/>
<rect x="429.45" y="216.20" width="6.47" height="6.35" fill="#8484f2"/>
<rect x="435.87" y="216.20" width="6.47" height="6.35" fill="#2200ec"/>
<rect x="442.28" y="216.20" width="6.47" height="6.35" fill="#2200ec"/>
<rect x="448.70" y="216.20" width="6.47" height="6.35" fill="#ec0a14"/>
<rect x="455.12" y="216.20" width="6.47" height="6.35" fill="#f6b8f2"/>
<rect x="461.53" y="216.20" width="6.47" height="6.35" fill="#f064a2"/>
<rect x="467.95" y="216.20" width="6.47" height="6.35" fill="#f6b8f2"/>
<rect x="474.37" y="216.20" width="6.47" height="6.35" fill="#ea2440"/>
<rect x="480.78" y="216.20" width="6.47" height="6.35" fill="#f064a2"/>
<rect x="410.20" y="222.50" width="6.47" height="6.35" fill="#e2e2fa"/>
<rect x="416.62" y="222.50" width="6.47" height="6.35" fill="#2200ec"/>
<rect x="423.03" y="222.50" width="6.47" height="6.35" fill="#8484f2"/>
<rect x="429.45" y="222.50" width="6.47" height="6.35" fill="#2200ec"/>
<rect x="435.87" y="222.50" width="6.47" height="6.35" fill="#2200ec"/>
<rect x="442.28" y="222.50" width="6.47" height="6.35" fill="#2200ec"/>
<rect x="448.70" y="222.50" width="6.47" height="6.35" fill="#f064a2"/>
<rect x="455.12" y="222.50" width="6.47" height="6.35" fill="#f064a2"/>
<rect x="461.53" y="222.50" width="6.47" height="6.35" fill="#f064a2"/>
<rect x="467.95" y="222.50" width="6.47" height="6.35" fill="#f064a2"/>
<rect x="474.37" y="222.50" width="6.47" height="6.35" fill="#ec0a14"/>
<rect x="480.78" y="222.50" width="6.47" height="6.35" fill="#ec0a14"/>
<rect x="410.20" y="228.79" width="6.47" height="6.35" fill="#2200ec"/>
<rect x="416.62" y="228.79" width="6.47" height="6.35" fill="#8484f2"/>
<rect x="423.03" y="228.79" width="6.47" height="6.35" fill="#2200ec"/>
<rect x="429.45" y="228.79" width="6.47" height="6.35" fill="#2200ec"/>
<rect x="435.87" y="228.79" width="6.47" height="6.35" fill="#2200ec"/>
<rect x="442.28" y="228.79" width="6.47" height="6.35" fill="#2200ec"/>
<rect x="448.70" y="228.79" width="6.47" height="6.35" fill="#ec0a14"/>
<rect x="455.12" y="228.79" width="6.47" height="6.35" fill="#e2e2fa"/>
<rect x="461.53" y="228.79" width="6.47" height="6.35" fill="#ec0a14"/>
<rect x="467.95" y="228.79" width="6.47" height="6.35" fill="#e2e2fa"/>
<rect x="474.37" y="228.79" width="6.47" height="6.35" fill="#ec0a14"/>
<rect x="480.78" y="228.79" width="6.47" height="6.35" fill="#f6b8f2"/>
<rect x="410.20" y="235.09" width="6.47" height="6.35" fill="#2200ec"/>
<rect x="416.62" y="235.09" width="6.47" height="6.35" fill="#2200ec"/>
<rect x="423.03" y="235.09" width="6.47" height="6.35" fill="#2200ec"/>
<rect x="429.45" y="235.09" width="6.47" height="6.35" fill="#ec0a14"/>
<rect x="435.87" y="235.09" width="6.47" height="6.35" fill="#2200ec"/>
<rect x="442.28" y="235.09" width="6.47" height="6.35" fill="#2200ec"/>
<rect x="448.70" y="235.09" width="6.47" height="6.35" fill="#f064a2"/>
<rect x="455.12" y="235.09" width="6.47" height="6.35" fill="#f064a2"/>
<rect x="461.53" y="235.09" width="6.47" height="6.35" fill="#ec0a14"/>
<rect x="467.95" y="235.09" width="6.47" height="6.35" fill="#f064a2"/>
<rect x="474.37" y="235.09" width="6.47" height="6.35" fill="#ec0a14"/>
<rect x="480.78" y="235.09" width="6.47" height="6.35" fill="#f064a2"/>
<rect x="410.20" y="241.38" width="6.47" height="6.35" fill="#e2e2fa"/>
<rect x="416.62" y="241.38" width="6.47" height="6.35" fill="#2200ec"/>
<rect x="423.03" y="241.38" width="6.47" height="6.35" fill="#2200ec"/>
<rect x="429.45" y="241.38" width="6.47" height="6.35" fill="#2200ec"/>
<rect x="435.87" y="241.38" width="6.47" height="6.35" fill="#2200ec"/>
<rect x="442.28" y="241.38" width="6.47" height="6.35" fill="#2200ec"/>
<rect x="448.70" y="241.38" width="6.47" height="6.35" fill="#ec0a14"/>
<rect x="455.12" y="241.38" width="6.47" height="6.35" fill="#f6b8f2"/>
<rect x="461.53" y="241.38" width="6.47" height="6.35" fill="#ea2440"/>
<rect x="467.95" y="241.38" width="6.47" height="6.35" fill="#8484f2"/>
<rect x="474.37" y="241.38" width="6.47" height="6.35" fill="#f064a2"/>
<rect x="480.78" y="241.38" width="6.47" height="6.35" fill="#f6b8f2"/>
<rect x="410.20" y="247.68" width="6.47" height="6.35" fill="#2200ec"/>
<rect x="416.62" y="247.68" width="6.47" height="6.35" fill="#e2e2fa"/>
<rect x="423.03" y="247.68" width="6.47" height="6.35" fill="#2200ec"/>
<rect x="429.45" y="247.68" width="6.47" height="6.35" fill="#f064a2"/>
<rect x="435.87" y="247.68" width="6.47" height="6.35" fill="#2200ec"/>
<rect x="442.28" y="247.68" width="6.47" height="6.35" fill="#e2e2fa"/>
<rect x="448.70" y="247.68" width="6.47" height="6.35" fill="#e2e2fa"/>
<rect x="455.12" y="247.68" width="6.47" height="6.35" fill="#ec0a14"/>
<rect x="461.53" y="247.68" width="6.47" height="6.35" fill="#f6b8f2"/>
<rect x="467.95" y="247.68" width="6.47" height="6.35" fill="#ec0a14"/>
<rect x="474.37" y="247.68" width="6.47" height="6.35" fill="#f064a2"/>
<rect x="480.78" y="247.68" width="6.47" height="6.35" fill="#ec0a14"/>
<rect x="410.20" y="253.97" width="6.47" height="6.35" fill="#e2e2fa"/>
<rect x="416.62" y="253.97" width="6.47" height="6.35" fill="#8484f2"/>
<rect x="423.03" y="253.97" width="6.47" height="6.35" fill="#8484f2"/>
<rect x="429.45" y="253.97" width="6.47" height="6.35" fill="#2200ec"/>
<rect x="435.87" y="253.97" width="6.47" height="6.35" fill="#2200ec"/>
<rect x="442.28" y="253.97" width="6.47" height="6.35" fill="#2200ec"/>
<rect x="448.70" y="253.97" width="6.47" height="6.35" fill="#ec0a14"/>
<rect x="455.12" y="253.97" width="6.47" height="6.35" fill="#f6b8f2"/>
<rect x="461.53" y="253.97" width="6.47" height="6.35" fill="#ec0a14"/>
<rect x="467.95" y="253.97" width="6.47" height="6.35" fill="#8484f2"/>
<rect x="474.37" y="253.97" width="6.47" height="6.35" fill="#ea2440"/>
<rect x="480.78" y="253.97" width="6.47" height="6.35" fill="#8484f2"/>
<rect x="410.20" y="260.27" width="6.47" height="6.35" fill="#2200ec"/>
<rect x="416.62" y="260.27" width="6.47" height="6.35" fill="#2200ec"/>
<rect x="423.03" y="260.27" width="6.47" height="6.35" fill="#e2e2fa"/>
<rect x="429.45" y="260.27" width="6.47" height="6.35" fill="#2200ec"/>
<rect x="435.87" y="260.27" width="6.47" height="6.35" fill="#2200ec"/>
<rect x="442.28" y="260.27" width="6.47" height="6.35" fill="#2200ec"/>
<rect x="448.70" y="260.27" width="6.47" height="6.35" fill="#ec0a14"/>
<rect x="455.12" y="260.27" width="6.47" height="6.35" fill="#2200ec"/>
<rect x="461.53" y="260.27" width="6.47" height="6.35" fill="#ec0a14"/>
<rect x="467.95" y="260.27" width="6.47" height="6.35" fill="#2200ec"/>
<rect x="474.37" y="260.27" width="6.47" height="6.35" fill="#ec0a14"/>
<rect x="480.78" y="260.27" width="6.47" height="6.35" fill="#f6b8f2"/>
<rect x="410.20" y="266.56" width="6.47" height="6.35" fill="#2200ec"/>
<rect x="416.62" y="266.56" width="6.47" height="6.35" fill="#f6b8f2"/>
<rect x="423.03" y="266.56" width="6.47" height="6.35" fill="#2200ec"/>
<rect x="429.45" y="266.56" width="6.47" height="6.35" fill="#f064a2"/>
<rect x="435.87" y="266.56" width="6.47" height="6.35" fill="#2200ec"/>
<rect x="442.28" y="266.56" width="6.47" height="6.35" fill="#2200ec"/>
<rect x="448.70" y="266.56" width="6.47" height="6.35" fill="#f064a2"/>
<rect x="455.12" y="266.56" width="6.47" height="6.35" fill="#ec0a14"/>
<rect x="461.53" y="266.56" width="6.47" height="6.35" fill="#f064a2"/>
<rect x="467.95" y="266.56" width="6.47" height="6.35" fill="#ea2440"/>
<rect x="474.37" y="266.56" width="6.47" height="6.35" fill="#e2e2fa"/>
<rect x="480.78" y="266.56" width="6.47" height="6.35" fill="#2200ec"/>
<rect x="410.20" y="272.86" width="6.47" height="6.35" fill="#e2e2fa"/>
<rect x="416.62" y="272.86" width="6.47" height="6.35" fill="#2200ec"/>
<rect x="423.03" y="272.86" width="6.47" height="6.35" fill="#f6b8f2"/>
<rect x="429.45" y="272.86" width="6.47" height="6.35" fill="#2200ec"/>
<rect x="435.87" y="272.86" width="6.47" height="6.35" fill="#e2e2fa"/>
<rect x="442.28" y="272.86" width="6.47" height="6.35" fill="#2200ec"/>
<rect x="448.70" y="272.86" width="6.47" height="6.35" fill="#ec0a14"/>
<rect x="455.12" y="272.86" width="6.47" height="6.35" fill="#f064a2"/>
<rect x="461.53" y="272.86" width="6.47" height="6.35" fill="#e2e2fa"/>
<rect x="467.95" y="272.86" width="6.47" height="6.35" fill="#f6b8f2"/>
<rect x="474.37" y="272.86" width="6.47" height="6.35" fill="#f064a2"/>
<rect x="480.78" y="272.86" width="6.47" height="6.35" fill="#ec0a14"/>
<rect x="410.20" y="279.15" width="6.47" height="6.35" fill="#2200ec"/>
<rect x="416.62" y="279.15" width="6.47" height="6.35" fill="#2200ec"/>
<rect x="423.03" y="279.15" width="6.47" height="6.35" fill="#8484f2"/>
<rect x="429.45" y="279.15" width="6.47" height="6.35" fill="#2200ec"/>
<rect x="435.87" y="279.15" width="6.47" height="6.35" fill="#2200ec"/>
<rect x="442.28" y="279.15" width="6.47" height="6.35" fill="#2200ec"/>
<rect x="448.70" y="279.15" width="6.47" height="6.35" fill="#ec0a14"/>
<rect x="455.12" y="279.15" width="6.47" height="6.35" fill="#2200ec"/>
<rect x="461.53" y="279.15" width="6.47" height="6.35" fill="#ea2440"/>
<rect x="467.95" y="279.15" width="6.47" height="6.35" fill="#e2e2fa"/>
<rect x="474.37" y="279.15" width="6.47" height="6.35" fill="#f064a2"/>
<rect x="480.78" y="279.15" width="6.47" height="6.35" fill="#2200ec"/>
<rect x="410.20" y="285.45" width="6.47" height="6.35" fill="#2200ec"/>
<rect x="416.62" y="285.45" width="6.47" height="6.35" fill="#2200ec"/>
<rect x="423.03" y="285.45" width="6.47" height="6.35" fill="#8484f2"/>
<rect x="429.45" y="285.45" width="6.47" height="6.35" fill="#ec0a14"/>
<rect x="435.87" y="285.45" width="6.47" height="6.35" fill="#2200ec"/>
<rect x="442.28" y="285.45" width="6.47" height="6.35" fill="#2200ec"/>
<rect x="448.70" y="285.45" width="6.47" height="6.35" fill="#ec0a14"/>
<rect x="455.12" y="285.45" width="6.47" height="6.35" fill="#e2e2fa"/>
<rect x="461.53" y="285.45" width="6.47" height="6.35" fill="#f064a2"/>
<rect x="467.95" y="285.45" width="6.47" height="6.35" fill="#f064a2"/>
<rect x="474.37" y="285.45" width="6.47" height="6.35" fill="#f064a2"/>
<rect x="480.78" y="285.45" width="6.47" height="6.35" fill="#f6b8f2"/>
<rect x="410.20" y="291.75" width="6.47" height="6.35" fill="#f6b8f2"/>
<rect x="416.62" y="291.75" width="6.47" height="6.35" fill="#2200ec"/>
<rect x="423.03" y="291.75" width="6.47" height="6.35" fill="#2200ec"/>
<rect x="429.45" y="291.75" width="6.47" height="6.35" fill="#2200ec"/>
<rect x="435.87" y="291.75" width="6.47" height="6.35" fill="#2200ec"/>
<rect x="442.28" y="291.75" width="6.47" height="6.35" fill="#2200ec"/>
<rect x="448.70" y="291.75" width="6.47" height="6.35" fill="#ec0a14"/>
<rect x="455.12" y="291.75" width="6.47" height="6.35" fill="#2200ec"/>
<rect x="461.53" y="291.75" width="6.47" height="6.35" fill="#ec0a14"/>
<rect x="467.95" y="291.75" width="6.47" height="6.35" fill="#e2e2fa"/>
<rect x="474.37" y="291.75" width="6.47" height="6.35" fill="#ec0a14"/>
<rect x="480.78" y="291.75" width="6.47" height="6.35" fill="#f064a2"/>
<rect x="410.20" y="298.04" width="6.47" height="6.35" fill="#f6b8f2"/>
<rect x="416.62" y="298.04" width="6.47" height="6.35" fill="#2200ec"/>
<rect x="423.03" y="298.04" width="6.47" height="6.35" fill="#e2e2fa"/>
<rect x="429.45" y="298.04" width="6.47" height="6.35" fill="#2200ec"/>
<rect x="435.87" y="298.04" width="6.47" height="6.35" fill="#2200ec"/>
<rect x="442.28" y="298.04" width="6.47" height="6.35" fill="#2200ec"/>
<rect x="448.70" y="298.04" width="6.47" height="6.35" fill="#ec0a14"/>
<rect x="455.12" y="298.04" width="6.47" height="6.35" fill="#8484f2"/>
<rect x="461.53" y="298.04" width="6.47" height="6.35" fill="#ec0a14"/>
<rect x="467.95" y="298.04" width="6.47" height="6.35" fill="#e2e2fa"/>
<rect x="474.37" y="298.04" width="6.47" height="6.35" fill="#ec0a14"/>
<rect x="480.78" y="298.04" width="6.47" height="6.35" fill="#8484f2"/>
<rect x="410.20" y="304.34" width="6.47" height="6.35" fill="#f6b8f2"/>
<rect x="416.62" y="304.34" width="6.47" height="6.35" fill="#2200ec"/>
<rect x="423.03" y="304.34" width="6.47" height="6.35" fill="#e2e2fa"/>
<rect x="429.45" y="304.34" width="6.47" height="6.35" fill="#2200ec"/>
<rect x="435.87" y="304.34" width="6.47" height="6.35" fill="#e2e2fa"/>
<rect x="442.28" y="304.34" width="6.47" height="6.35" fill="#2200ec"/>
<rect x="448.70" y="304.34" width="6.47" height="6.35" fill="#ec0a14"/>
<rect x="455.12" y="304.34" width="6.47" height="6.35" fill="#2200ec"/>
<rect x="461.53" y="304.34" width="6.47" height="6.35" fill="#ec0a14"/>
<rect x="467.95" y="304.34" width="6.47" height="6.35" fill="#8484f2"/>
<rect x="474.37" y="304.34" width="6.47" height="6.35" fill="#ec0a14"/>
<rect x="480.78" y="304.34" width="6.47" height="6.35" fill="#f064a2"/>
<rect x="410.20" y="310.63" width="6.47" height="6.35" fill="#2200ec"/>
<rect x="416.62" y="310.63" width="6.47" height="6.35" fill="#2200ec"/>
<rect x="423.03" y="310.63" width="6.47" height="6.35" fill="#f6b8f2"/>
<rect x="429.45" y="310.63" width="6.47" height="6.35" fill="#2200ec"/>
<rect x="435.87" y="310.63" width="6.47" height="6.35" fill="#2200ec"/>
<rect x="442.28" y="310.63" width="6.47" height="6.35" fill="#2200ec"/>
<rect x="448.70" y="310.63" width="6.47" height="6.35" fill="#f064a2"/>
<rect x="455.12" y="310.63" width="6.47" height="6.35" fill="#8484f2"/>
<rect x="461.53" y="310.63" width="6.47" height="6.35" fill="#ec0a14"/>
<rect x="467.95" y="310.63" width="6.47" height="6.35" fill="#f064a2"/>
<rect x="474.37" y="310.63" width="6.47" height="6.35" fill="#f6b8f2"/>
<rect x="480.78" y="310.63" width="6.47" height="6.35" fill="#2200ec"/>
<rect x="410.20" y="316.93" width="6.47" height="6.35" fill="#f6b8f2"/>
<rect x="416.62" y="316.93" width="6.47" height="6.35" fill="#8484f2"/>
<rect x="423.03" y="316.93" width="6.47" height="6.35" fill="#e2e2fa"/>
<rect x="429.45" y="316.93" width="6.47" height="6.35" fill="#2200ec"/>
<rect x="435.87" y="316.93" width="6.47" height="6.35" fill="#8484f2"/>
<rect x="442.28" y="316.93" width="6.47" height="6.35" fill="#2200ec"/>
<rect x="448.70" y="316.93" width="6.47" height="6.35" fill="#ec0a14"/>
<rect x="455.12" y="316.93" width="6.47" height="6.35" fill="#2200ec"/>
<rect x="461.53" y="316.93" width="6.47" height="6.35" fill="#ec0a14"/>
<rect x="467.95" y="316.93" width="6.47" height="6.35" fill="#ea2440"/>
<rect x="474.37" y="316.93" width="6.47" height="6.35" fill="#f064a2"/>
<rect x="480.78" y="316.93" width="6.47" height="6.35" fill="#e2e2fa"/>
<rect x="410.20" y="323.22" width="6.47" height="6.35" fill="#e2e2fa"/>
<rect x="416.62" y="323.22" width="6.47" height="6.35" fill="#e2e2fa"/>
<rect x="423.03" y="323.22" width="6.47" height="6.35" fill="#f064a2"/>
<rect x="429.45" y="323.22" width="6.47" height="6.35" fill="#2200ec"/>
<rect x="435.87" y="323.22" width="6.47" height="6.35" fill="#2200ec"/>
<rect x="442.28" y="323.22" width="6.47" height="6.35" fill="#2200ec"/>
<rect x="448.70" y="323.22" width="6.47" height="6.35" fill="#f064a2"/>
<rect x="455.12" y="323.22" width="6.47" height="6.35" fill="#f064a2"/>
<rect x="461.53" y="323.22" width="6.47" height="6.35" fill="#e2e2fa"/>
<rect x="467.95" y="323.22" width="6.47" height="6.35" fill="#ec0a14"/>
<rect x="474.37" y="323.22" width="6.47" height="6.35" fill="#e2e2fa"/>
<rect x="480.78" y="323.22" width="6.47" height="6.35" fill="#f064a2"/>
<rect x="410.20" y="329.52" width="6.47" height="6.35" fill="#f6b8f2"/>
<rect x="416.62" y="329.52" width="6.47" height="6.35" fill="#2200ec"/>
<rect x="423.03" y="329.52" width="6.47" height="6.35" fill="#2200ec"/>
<rect x="429.45" y="329.52" width="6.47" height="6.35" fill="#2200ec"/>
<rect x="435.87" y="329.52" width="6.47" height="6.35" fill="#2200ec"/>
<rect x="442.28" y="329.52" width="6.47" height="6.35" fill="#f6b8f2"/>
<rect x="448.70" y="329.52" width="6.47" height="6.35" fill="#f6b8f2"/>
<rect x="455.12" y="329.52" width="6.47" height="6.35" fill="#f064a2"/>
<rect x="461.53" y="329.52" width="6.47" height="6.35" fill="#2200ec"/>
<rect x="467.95" y="329.52" width="6.47" height="6.35" fill="#8484f2"/>
<rect x="474.37" y="329.52" width="6.47" height="6.35" fill="#f064a2"/>
<rect x="480.78" y="329.52" width="6.47" height="6.35" fill="#ec0a14"/>
<rect x="410.20" y="335.81" width="6.47" height="6.35" fill="#2200ec"/>
<rect x="416.62" y="335.81" width="6.47" height="6.35" fill="#2200ec"/>
<rect x="423.03" y="335.81" width="6.47" height="6.35" fill="#2200ec"/>
<rect x="429.45" y="335.81" width="6.47" height="6.35" fill="#ec0a14"/>
<rect x="435.87" y="335.81" width="6.47" height="6.35" fill="#2200ec"/>
<rect x="442.28" y="335.81" width="6.47" height="6.35" fill="#2200ec"/>
<rect x="448.70" y="335.81" width="6.47" height="6.35" fill="#f064a2"/>
<rect x="455.12" y="335.81" width="6.47" height="6.35" fill="#f6b8f2"/>
<rect x="461.53" y="335.81" width="6.47" height="6.35" fill="#f6b8f2"/>
<rect x="467.95" y="335.81" width="6.47" height="6.35" fill="#f064a2"/>
<rect x="474.37" y="335.81" width="6.47" height="6.35" fill="#f064a2"/>
<rect x="480.78" y="335.81" width="6.47" height="6.35" fill="#f064a2"/>
<rect x="410.20" y="342.11" width="6.47" height="6.35" fill="#2200ec"/>
<rect x="416.62" y="342.11" width="6.47" height="6.35" fill="#8484f2"/>
<rect x="423.03" y="342.11" width="6.47" height="6.35" fill="#2200ec"/>
<rect x="429.45" y="342.11" width="6.47" height="6.35" fill="#f064a2"/>
<rect x="435.87" y="342.11" width="6.47" height="6.35" fill="#2200ec"/>
<rect x="442.28" y="342.11" width="6.47" height="6.35" fill="#e2e2fa"/>
<rect x="448.70" y="342.11" width="6.47" height="6.35" fill="#e2e2fa"/>
<rect x="455.12" y="342.11" width="6.47" height="6.35" fill="#ec0a14"/>
<rect x="461.53" y="342.11" width="6.47" height="6.35" fill="#e2e2fa"/>
<rect x="467.95" y="342.11" width="6.47" height="6.35" fill="#ea2440"/>
<rect x="474.37" y="342.11" width="6.47" height="6.35" fill="#e2e2fa"/>
<rect x="480.78" y="342.11" width="6.47" height="6.35" fill="#ea2440"/>
<rect x="410.20" y="348.40" width="6.47" height="6.35" fill="#8484f2"/>
<rect x="416.62" y="348.40" width="6.47" height="6.35" fill="#2200ec"/>
<rect x="423.03" y="348.40" width="6.47" height="6.35" fill="#2200ec"/>
<rect x="429.45" y="348.40" width="6.47" height="6.35" fill="#e2e2fa"/>
<rect x="435.87" y="348.40" width="6.47" height="6.35" fill="#8484f2"/>
<rect x="442.28" y="348.40" width="6.47" height="6.35" fill="#2200ec"/>
<rect x="448.70" y="348.40" width="6.47" height="6.35" fill="#f064a2"/>
<rect x="455.12" y="348.40" width="6.47" height="6.35" fill="#ec0a14"/>
<rect x="461.53" y="348.40" width="6.47" height="6.35" fill="#f6b8f2"/>
<rect x="467.95" y="348.40" width="6.47" height="6.35" fill="#f6b8f2"/>
<rect x="474.37" y="348.40" width="6.47" height="6.35" fill="#f6b8f2"/>
<rect x="480.78" y="348.40" width="6.47" height="6.35" fill="#f064a2"/>
</g>
<path d="M416.62 77.7V354.7 M423.03 77.7V354.7 M429.45 77.7V354.7 M435.87 77.7V354.7 M442.28 77.7V354.7 M448.70 77.7V354.7 M455.12 77.7V354.7 M461.53 77.7V354.7 M467.95 77.7V354.7 M474.37 77.7V354.7 M480.78 77.7V354.7 M410.2 84.00H487.2 M410.2 90.29H487.2 M410.2 96.59H487.2 M410.2 102.88H487.2 M410.2 109.18H487.2 M410.2 115.47H487.2 M410.2 121.77H487.2 M410.2 128.06H487.2 M410.2 134.36H487.2 M410.2 140.65H487.2 M410.2 146.95H487.2 M410.2 153.25H487.2 M410.2 159.54H487.2 M410.2 165.84H487.2 M410.2 172.13H487.2 M410.2 178.43H487.2 M410.2 184.72H487.2 M410.2 191.02H487.2 M410.2 197.31H487.2 M410.2 203.61H487.2 M410.2 209.90H487.2 M410.2 216.20H487.2 M410.2 222.50H487.2 M410.2 228.79H487.2 M410.2 235.09H487.2 M410.2 241.38H487.2 M410.2 247.68H487.2 M410.2 253.97H487.2 M410.2 260.27H487.2 M410.2 266.56H487.2 M410.2 272.86H487.2 M410.2 279.15H487.2 M410.2 285.45H487.2 M410.2 291.75H487.2 M410.2 298.04H487.2 M410.2 304.34H487.2 M410.2 310.63H487.2 M410.2 316.93H487.2 M410.2 323.22H487.2 M410.2 329.52H487.2 M410.2 335.81H487.2 M410.2 342.11H487.2 M410.2 348.40H487.2" stroke="#ffffff" stroke-opacity="0.22" stroke-width="0.9" fill="none"/>
<text x="405.8" y="82.70" font-size="5.2" text-anchor="end" fill="#000" class="t" style="stroke-width:0.25">LXN</text>
<text x="405.8" y="88.99" font-size="5.2" text-anchor="end" fill="#000" class="t" style="stroke-width:0.25">ISG20</text>
<text x="405.8" y="95.29" font-size="5.2" text-anchor="end" fill="#000" class="t" style="stroke-width:0.25">PER1</text>
<text x="405.8" y="101.58" font-size="5.2" text-anchor="end" fill="#000" class="t" style="stroke-width:0.25">MMP7</text>
<text x="405.8" y="107.88" font-size="5.2" text-anchor="end" fill="#000" class="t" style="stroke-width:0.25">PNMT</text>
<text x="405.8" y="114.17" font-size="5.2" text-anchor="end" fill="#000" class="t" style="stroke-width:0.25">PER1</text>
<text x="405.8" y="120.47" font-size="5.2" text-anchor="end" fill="#000" class="t" style="stroke-width:0.25">TXNIP</text>
<text x="405.8" y="126.77" font-size="5.2" text-anchor="end" fill="#000" class="t" style="stroke-width:0.25">DSIPI</text>
<text x="405.8" y="133.06" font-size="5.2" text-anchor="end" fill="#000" class="t" style="stroke-width:0.25">TPST2</text>
<text x="405.8" y="139.36" font-size="5.2" text-anchor="end" fill="#000" class="t" style="stroke-width:0.25">DDIT4</text>
<text x="405.8" y="145.65" font-size="5.2" text-anchor="end" fill="#000" class="t" style="stroke-width:0.25">WFDC1</text>
<text x="405.8" y="151.95" font-size="5.2" text-anchor="end" fill="#000" class="t" style="stroke-width:0.25">FLT3</text>
<text x="405.8" y="158.24" font-size="5.2" text-anchor="end" fill="#000" class="t" style="stroke-width:0.25">GSN</text>
<text x="405.8" y="164.54" font-size="5.2" text-anchor="end" fill="#000" class="t" style="stroke-width:0.25">IGFBP7</text>
<text x="405.8" y="170.83" font-size="5.2" text-anchor="end" fill="#000" class="t" style="stroke-width:0.25">CA1</text>
<text x="405.8" y="177.13" font-size="5.2" text-anchor="end" fill="#000" class="t" style="stroke-width:0.25">DKFZP586A0522</text>
<text x="405.8" y="183.42" font-size="5.2" text-anchor="end" fill="#000" class="t" style="stroke-width:0.25">SESN1</text>
<text x="405.8" y="189.72" font-size="5.2" text-anchor="end" fill="#000" class="t" style="stroke-width:0.25">ZNF145</text>
<text x="405.8" y="196.02" font-size="5.2" text-anchor="end" fill="#000" class="t" style="stroke-width:0.25">IGFBP7</text>
<text x="405.8" y="202.31" font-size="5.2" text-anchor="end" fill="#000" class="t" style="stroke-width:0.25">ARHGEF18</text>
<text x="405.8" y="208.61" font-size="5.2" text-anchor="end" fill="#000" class="t" style="stroke-width:0.25">PON2</text>
<text x="405.8" y="214.90" font-size="5.2" text-anchor="end" fill="#000" class="t" style="stroke-width:0.25">GSTM3</text>
<text x="405.8" y="221.20" font-size="5.2" text-anchor="end" fill="#000" class="t" style="stroke-width:0.25">AKAP12</text>
<text x="405.8" y="227.49" font-size="5.2" text-anchor="end" fill="#000" class="t" style="stroke-width:0.25">FCER1A</text>
<text x="405.8" y="233.79" font-size="5.2" text-anchor="end" fill="#000" class="t" style="stroke-width:0.25">HLA-DRB4</text>
<text x="405.8" y="240.08" font-size="5.2" text-anchor="end" fill="#000" class="t" style="stroke-width:0.25">HLA-DRB3</text>
<text x="405.8" y="246.38" font-size="5.2" text-anchor="end" fill="#000" class="t" style="stroke-width:0.25">DNTT</text>
<text x="405.8" y="252.67" font-size="5.2" text-anchor="end" fill="#000" class="t" style="stroke-width:0.25">IL1B</text>
<text x="405.8" y="258.97" font-size="5.2" text-anchor="end" fill="#000" class="t" style="stroke-width:0.25">HLA-DPA1</text>
<text x="405.8" y="265.27" font-size="5.2" text-anchor="end" fill="#000" class="t" style="stroke-width:0.25">SLC7A11</text>
<text x="405.8" y="271.56" font-size="5.2" text-anchor="end" fill="#000" class="t" style="stroke-width:0.25">PQLC1</text>
<text x="405.8" y="277.86" font-size="5.2" text-anchor="end" fill="#000" class="t" style="stroke-width:0.25">CECR1</text>
<text x="405.8" y="284.15" font-size="5.2" text-anchor="end" fill="#000" class="t" style="stroke-width:0.25">CCL3</text>
<text x="405.8" y="290.45" font-size="5.2" text-anchor="end" fill="#000" class="t" style="stroke-width:0.25">HLA-DRA</text>
<text x="405.8" y="296.74" font-size="5.2" text-anchor="end" fill="#000" class="t" style="stroke-width:0.25">GGH</text>
<text x="405.8" y="303.04" font-size="5.2" text-anchor="end" fill="#000" class="t" style="stroke-width:0.25">KNSL7</text>
<text x="405.8" y="309.33" font-size="5.2" text-anchor="end" fill="#000" class="t" style="stroke-width:0.25">POU2AF1</text>
<text x="405.8" y="315.63" font-size="5.2" text-anchor="end" fill="#000" class="t" style="stroke-width:0.25">LTB</text>
<text x="405.8" y="321.93" font-size="5.2" text-anchor="end" fill="#000" class="t" style="stroke-width:0.25">COCH</text>
<text x="405.8" y="328.22" font-size="5.2" text-anchor="end" fill="#000" class="t" style="stroke-width:0.25">SELP</text>
<text x="405.8" y="334.52" font-size="5.2" text-anchor="end" fill="#000" class="t" style="stroke-width:0.25">RNASE2</text>
<text x="405.8" y="340.81" font-size="5.2" text-anchor="end" fill="#000" class="t" style="stroke-width:0.25">HLA-DRA</text>
<text x="405.8" y="347.11" font-size="5.2" text-anchor="end" fill="#000" class="t" style="stroke-width:0.25">HLA-DPA1</text>
<text x="405.8" y="353.40" font-size="5.2" text-anchor="end" fill="#000" class="t" style="stroke-width:0.25">C10orf10</text>
<rect x="410.2" y="65.6" width="77.00" height="12.10" fill="#fff" stroke="#c8c8c8" stroke-width="0.6"/>
<text transform="translate(414.51,74.0) rotate(-90)" font-size="3.9" text-anchor="middle" fill="#111" class="t" style="stroke-width:0.22">205</text>
<line x1="416.62" y1="65.6" x2="416.62" y2="77.7" stroke="#d0d0d0" stroke-width="0.5"/>
<text transform="translate(420.93,74.0) rotate(-90)" font-size="3.9" text-anchor="middle" fill="#111" class="t" style="stroke-width:0.22">206</text>
<line x1="423.03" y1="65.6" x2="423.03" y2="77.7" stroke="#d0d0d0" stroke-width="0.5"/>
<text transform="translate(427.34,74.0) rotate(-90)" font-size="3.9" text-anchor="middle" fill="#111" class="t" style="stroke-width:0.22">208</text>
<line x1="429.45" y1="65.6" x2="429.45" y2="77.7" stroke="#d0d0d0" stroke-width="0.5"/>
<text transform="translate(433.76,74.0) rotate(-90)" font-size="3.9" text-anchor="middle" fill="#111" class="t" style="stroke-width:0.22">209</text>
<line x1="435.87" y1="65.6" x2="435.87" y2="77.7" stroke="#d0d0d0" stroke-width="0.5"/>
<text transform="translate(440.18,74.0) rotate(-90)" font-size="3.9" text-anchor="middle" fill="#111" class="t" style="stroke-width:0.22">207</text>
<line x1="442.28" y1="65.6" x2="442.28" y2="77.7" stroke="#d0d0d0" stroke-width="0.5"/>
<text transform="translate(446.59,74.0) rotate(-90)" font-size="3.9" text-anchor="middle" fill="#111" class="t" style="stroke-width:0.22">210</text>
<line x1="448.70" y1="65.6" x2="448.70" y2="77.7" stroke="#d0d0d0" stroke-width="0.5"/>
<text transform="translate(453.01,74.0) rotate(-90)" font-size="3.9" text-anchor="middle" fill="#111" class="t" style="stroke-width:0.22">202</text>
<line x1="455.12" y1="65.6" x2="455.12" y2="77.7" stroke="#d0d0d0" stroke-width="0.5"/>
<text transform="translate(459.43,74.0) rotate(-90)" font-size="3.9" text-anchor="middle" fill="#111" class="t" style="stroke-width:0.22">203</text>
<line x1="461.53" y1="65.6" x2="461.53" y2="77.7" stroke="#d0d0d0" stroke-width="0.5"/>
<text transform="translate(465.84,74.0) rotate(-90)" font-size="3.9" text-anchor="middle" fill="#111" class="t" style="stroke-width:0.22">201</text>
<line x1="467.95" y1="65.6" x2="467.95" y2="77.7" stroke="#d0d0d0" stroke-width="0.5"/>
<text transform="translate(472.26,74.0) rotate(-90)" font-size="3.9" text-anchor="middle" fill="#111" class="t" style="stroke-width:0.22">204</text>
<line x1="474.37" y1="65.6" x2="474.37" y2="77.7" stroke="#d0d0d0" stroke-width="0.5"/>
<text transform="translate(478.68,74.0) rotate(-90)" font-size="3.9" text-anchor="middle" fill="#111" class="t" style="stroke-width:0.22">211</text>
<line x1="480.78" y1="65.6" x2="480.78" y2="77.7" stroke="#d0d0d0" stroke-width="0.5"/>
<text transform="translate(485.09,74.0) rotate(-90)" font-size="3.9" text-anchor="middle" fill="#111" class="t" style="stroke-width:0.22">212</text>
<rect x="411.00" y="62.5" width="10.8" height="1.2" fill="#222"/>
<text transform="translate(418.55,60.0) rotate(-90)" font-size="6.85" fill="#000" class="t">Epo</text>
<rect x="423.50" y="62.5" width="10.8" height="1.2" fill="#222"/>
<text transform="translate(431.05,60.0) rotate(-90)" font-size="6.85" fill="#000" class="t">Epo+IL3</text>
<rect x="436.00" y="62.5" width="10.8" height="1.2" fill="#222"/>
<text transform="translate(443.55,60.0) rotate(-90)" font-size="6.85" fill="#000" class="t">Epo+IL3+SCF</text>
<rect x="451.00" y="62.5" width="10.8" height="1.2" fill="#222"/>
<text transform="translate(458.55,60.0) rotate(-90)" font-size="6.85" fill="#000" class="t">Epo</text>
<rect x="463.50" y="62.5" width="10.8" height="1.2" fill="#222"/>
<text transform="translate(471.05,60.0) rotate(-90)" font-size="6.85" fill="#000" class="t">Epo+IL3</text>
<rect x="476.00" y="62.5" width="10.8" height="1.2" fill="#222"/>
<text transform="translate(483.55,60.0) rotate(-90)" font-size="6.85" fill="#000" class="t">Epo+IL3+SCF</text>
<rect x="408.8" y="13" width="37.1" height="1" fill="#000"/>
<rect x="450.2" y="13" width="37.1" height="1" fill="#000"/>
<text x="427.4" y="7.7" font-size="8.5" text-anchor="middle" class="t">Dex</text>
<text x="467.7" y="7.7" font-size="8.5" text-anchor="middle" class="t">No dex</text>
<defs><linearGradient id="lg" x1="0" x2="1" y1="0" y2="0"><stop offset="0" stop-color="#1000d8"/><stop offset="0.26" stop-color="#1808e0"/><stop offset="0.262" stop-color="#7c7ce8"/><stop offset="0.35" stop-color="#7c7ce8"/><stop offset="0.352" stop-color="#d4d4f4"/><stop offset="0.49" stop-color="#eedcf4"/><stop offset="0.50" stop-color="#f8c8ec"/><stop offset="0.60" stop-color="#f8c0e8"/><stop offset="0.602" stop-color="#f06c9c"/><stop offset="1" stop-color="#e0000c"/></linearGradient></defs>
<rect x="363.6" y="371.4" width="147.70" height="2.90" fill="url(#lg)"/>
<text x="367.10" y="379.5" font-size="4.7" text-anchor="middle" letter-spacing="0.25" class="t">-3.0</text>
<text x="379.60" y="379.5" font-size="4.7" text-anchor="middle" letter-spacing="0.25" class="t">-2.5</text>
<text x="393.40" y="379.5" font-size="4.7" text-anchor="middle" letter-spacing="0.25" class="t">-2.0</text>
<text x="406.00" y="379.5" font-size="4.7" text-anchor="middle" letter-spacing="0.25" class="t">-1.5</text>
<text x="418.50" y="379.5" font-size="4.7" text-anchor="middle" letter-spacing="0.25" class="t">-1.0</text>
<text x="431.50" y="379.5" font-size="4.7" text-anchor="middle" letter-spacing="0.25" class="t">-0.5</text>
<text x="443.80" y="379.5" font-size="4.7" text-anchor="middle" letter-spacing="0.25" class="t">0.0</text>
<text x="455.60" y="379.5" font-size="4.7" text-anchor="middle" letter-spacing="0.25" class="t">0.5</text>
<text x="467.50" y="379.5" font-size="4.7" text-anchor="middle" letter-spacing="0.25" class="t">1.0</text>
<text x="479.30" y="379.5" font-size="4.7" text-anchor="middle" letter-spacing="0.25" class="t">1.5</text>
<text x="490.60" y="379.5" font-size="4.7" text-anchor="middle" letter-spacing="0.25" class="t">2.0</text>
<text x="502.70" y="379.5" font-size="4.7" text-anchor="middle" letter-spacing="0.25" class="t">2.5</text>
<text x="513.90" y="379.5" font-size="4.7" text-anchor="middle" letter-spacing="0.25" class="t">3.0</text>
<text x="357.5" y="388.3" font-size="7.2" class="t" style="stroke-width:0.1">Low</text>
<text x="519.4" y="388.3" font-size="7.2" text-anchor="end" class="t" style="stroke-width:0.1">High</text>
<text x="441.4" y="399.9" font-size="7.0" text-anchor="middle" class="t" style="stroke-width:0.1">Normalized expression</text>
</svg>
</body></html>
